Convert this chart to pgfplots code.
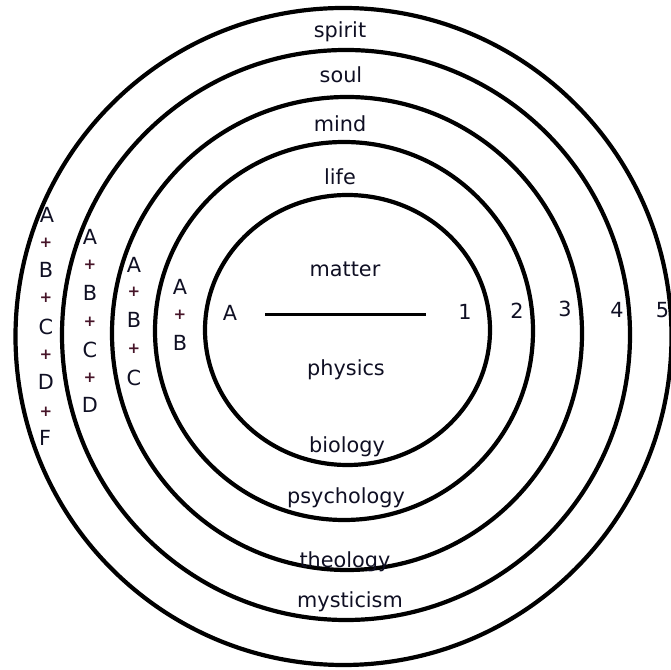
\documentclass[border=0pt]{standalone}
\usepackage{pgfplots}
\pgfplotsset{compat=1.18}
\usepackage{fontspec}
\setmainfont{DejaVu Sans}
\definecolor{txt}{RGB}{15,15,35}
\definecolor{plus}{RGB}{70,20,40}
\tikzset{lb/.style={font=\fontsize{20.8}{24}\selectfont, text=txt, inner sep=0pt},
         pl/.style={font=\bfseries\fontsize{15}{17}\selectfont, text=plus, inner sep=0pt}}
\begin{document}
\begin{tikzpicture}
\begin{axis}[name=ax, hide axis, scale only axis, width=671pt, height=669pt,
  xmin=0, xmax=671, ymin=0, ymax=669, clip=false]
% circles (centre x, 669 - centre y, radii)
\draw[line width=4.2pt] (axis cs:343.5,332.5) ellipse [x radius=328, y radius=328.5];
\draw[line width=4.2pt] (axis cs:346,334) ellipse [x radius=284, y radius=285];
\draw[line width=4.2pt] (axis cs:347,335.5) ellipse [x radius=235, y radius=236.5];
\draw[line width=4.2pt] (axis cs:344,338) ellipse [x radius=189, y radius=189];
\draw[line width=4.2pt] (axis cs:347.5,339) ellipse [x radius=142.5, y radius=135];
% centre line
\addplot[line width=2.6pt, black] coordinates {(265,354.5) (426,354.5)};
% labels
\node[lb] at (axis cs:340,637) {spirit};
\node[lb] at (axis cs:341,594) {soul};
\node[lb] at (axis cs:340,545) {mind};
\node[lb] at (axis cs:340,492) {life};
\node[lb] at (axis cs:345,400) {matter};
\node[lb] at (axis cs:346,299) {physics};
\node[lb] at (axis cs:347,222) {biology};
\node[lb] at (axis cs:346,171) {psychology};
\node[lb] at (axis cs:345,107) {theology};
\node[lb] at (axis cs:350,67) {mysticism};
\node[lb] at (axis cs:230,356) {A};
\node[lb] at (axis cs:465,357) {1};
\node[lb] at (axis cs:517,358) {2};
\node[lb] at (axis cs:565,360) {3};
\node[lb] at (axis cs:617,359) {4};
\node[lb] at (axis cs:662.5,359) {5};
% stacks
\node[lb] at (axis cs:47,454) {A};
\node[pl] at (axis cs:46,426) {+};
\node[lb] at (axis cs:46,399) {B};
\node[pl] at (axis cs:46,371) {+};
\node[lb] at (axis cs:46,342) {C};
\node[pl] at (axis cs:46,314) {+};
\node[lb] at (axis cs:46,287) {D};
\node[pl] at (axis cs:46,257) {+};
\node[lb] at (axis cs:45,231) {F};
\node[lb] at (axis cs:90,432) {A};
\node[pl] at (axis cs:90,404) {+};
\node[lb] at (axis cs:90,376) {B};
\node[pl] at (axis cs:90,347) {+};
\node[lb] at (axis cs:90,319) {C};
\node[pl] at (axis cs:90,291) {+};
\node[lb] at (axis cs:90,264) {D};
\node[lb] at (axis cs:134,404) {A};
\node[pl] at (axis cs:134,377) {+};
\node[lb] at (axis cs:134,349) {B};
\node[pl] at (axis cs:134,320) {+};
\node[lb] at (axis cs:134,291) {C};
\node[lb] at (axis cs:180,382) {A};
\node[pl] at (axis cs:180,354) {+};
\node[lb] at (axis cs:180,326) {B};
\end{axis}
\pgfresetboundingbox
\path (ax.south west) rectangle (ax.north east);
\end{tikzpicture}
\end{document}
